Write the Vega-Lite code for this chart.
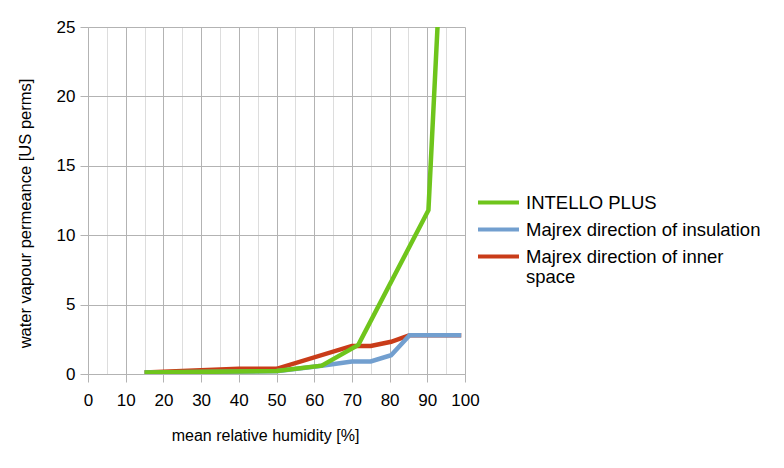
{
  "$schema": "https://vega.github.io/schema/vega-lite/v6.json",
  "width": 377,
  "height": 347,
  "autosize": {"type": "none"},
  "padding": {"left": 88, "top": 27, "right": 319, "bottom": 94},
  "background": "white",
  "config": {
    "font": "Liberation Sans",
    "view": {"stroke": null},
    "axis": {
      "domainColor": "#b3b3b3",
      "tickColor": "#b3b3b3",
      "gridColor": "#b3b3b3",
      "tickSize": 8,
      "labelFont": "Liberation Sans",
      "labelFontSize": 17,
      "labelColor": "#000000",
      "titleFont": "Liberation Sans",
      "titleFontSize": 16,
      "titleFontWeight": "normal",
      "titleColor": "#000000"
    }
  },
  "data": {
    "values": [
      {"series": "INTELLO PLUS", "rh": 15, "perm": 0.1},
      {"series": "INTELLO PLUS", "rh": 50, "perm": 0.22},
      {"series": "INTELLO PLUS", "rh": 62, "perm": 0.6},
      {"series": "INTELLO PLUS", "rh": 71.7, "perm": 2.1},
      {"series": "INTELLO PLUS", "rh": 90.3, "perm": 11.8},
      {"series": "INTELLO PLUS", "rh": 93, "perm": 26.6},
      {"series": "Majrex direction of insulation", "rh": 15, "perm": 0.1},
      {"series": "Majrex direction of insulation", "rh": 50, "perm": 0.2},
      {"series": "Majrex direction of insulation", "rh": 62, "perm": 0.6},
      {"series": "Majrex direction of insulation", "rh": 70, "perm": 0.9},
      {"series": "Majrex direction of insulation", "rh": 75, "perm": 0.9},
      {"series": "Majrex direction of insulation", "rh": 80.4, "perm": 1.35},
      {"series": "Majrex direction of insulation", "rh": 85.3, "perm": 2.8},
      {"series": "Majrex direction of insulation", "rh": 99, "perm": 2.8},
      {"series": "Majrex direction of inner space", "rh": 15, "perm": 0.1},
      {"series": "Majrex direction of inner space", "rh": 40, "perm": 0.37},
      {"series": "Majrex direction of inner space", "rh": 50, "perm": 0.37},
      {"series": "Majrex direction of inner space", "rh": 70, "perm": 2.02},
      {"series": "Majrex direction of inner space", "rh": 75, "perm": 2.02},
      {"series": "Majrex direction of inner space", "rh": 80.4, "perm": 2.32},
      {"series": "Majrex direction of inner space", "rh": 85.3, "perm": 2.8},
      {"series": "Majrex direction of inner space", "rh": 99, "perm": 2.8}
    ]
  },
  "encoding": {
    "x": {
      "field": "rh",
      "type": "quantitative",
      "scale": {"domain": [0, 100], "nice": false},
      "axis": {
        "title": "mean relative humidity [%]",
        "values": [0, 5, 10, 15, 20, 25, 30, 35, 40, 45, 50, 55, 60, 65, 70, 75, 80, 85, 90, 95, 100],
        "labelExpr": "datum.value % 10 == 0 ? datum.label : ''",
        "labelOverlap": false,
        "labelFlush": false,
        "gridColor": {"condition": {"test": "datum.value % 10 == 0", "value": "#b3b3b3"}, "value": "#dddddd"},
        "tickOpacity": {"condition": {"test": "datum.value % 10 == 0", "value": 1}, "value": 0},
        "labelPadding": 10,
        "titleX": 177,
        "titleY": 61,
        "titleBaseline": "middle"
      }
    },
    "y": {
      "field": "perm",
      "type": "quantitative",
      "scale": {"domain": [0, 25], "nice": false},
      "axis": {
        "title": "water vapour permeance [US perms]",
        "values": [0, 5, 10, 15, 20, 25],
        "labelOverlap": false,
        "labelFlush": false,
        "labelPadding": 5,
        "titleX": -63,
        "titleY": 186,
        "titleBaseline": "middle",
        "titleFontSize": 16.5
      }
    },
    "color": {
      "field": "series",
      "type": "nominal",
      "scale": {
        "domain": ["INTELLO PLUS", "Majrex direction of insulation", "Majrex direction of inner space"],
        "range": ["#6fc51c", "#729fcf", "#c93c19"]
      },
      "legend": {
        "title": null,
        "orient": "none",
        "legendX": 398,
        "legendY": 163,
        "padding": 0,
        "symbolType": "M-2,0H2",
        "symbolSize": 420,
        "symbolStrokeWidth": 4,
        "symbolFillColor": "transparent",
        "labelFont": "Liberation Sans",
        "labelFontSize": 18.5,
        "labelColor": "#000000",
        "labelOffset": 15,
        "labelLimit": 300,
        "rowPadding": 5,
        "labelExpr": "datum.label == 'Majrex direction of inner space' ? ['Majrex direction of inner', 'space'] : datum.label"
      }
    }
  },
  "layer": [
    {
      "transform": [{"filter": "datum.series == 'Majrex direction of inner space'"}],
      "mark": {"type": "line", "strokeWidth": 4.5, "clip": true}
    },
    {
      "transform": [{"filter": "datum.series == 'Majrex direction of insulation'"}],
      "mark": {"type": "line", "strokeWidth": 4.5, "clip": true}
    },
    {
      "transform": [{"filter": "datum.series == 'INTELLO PLUS'"}],
      "mark": {"type": "line", "strokeWidth": 4.5, "clip": true}
    }
  ]
}
